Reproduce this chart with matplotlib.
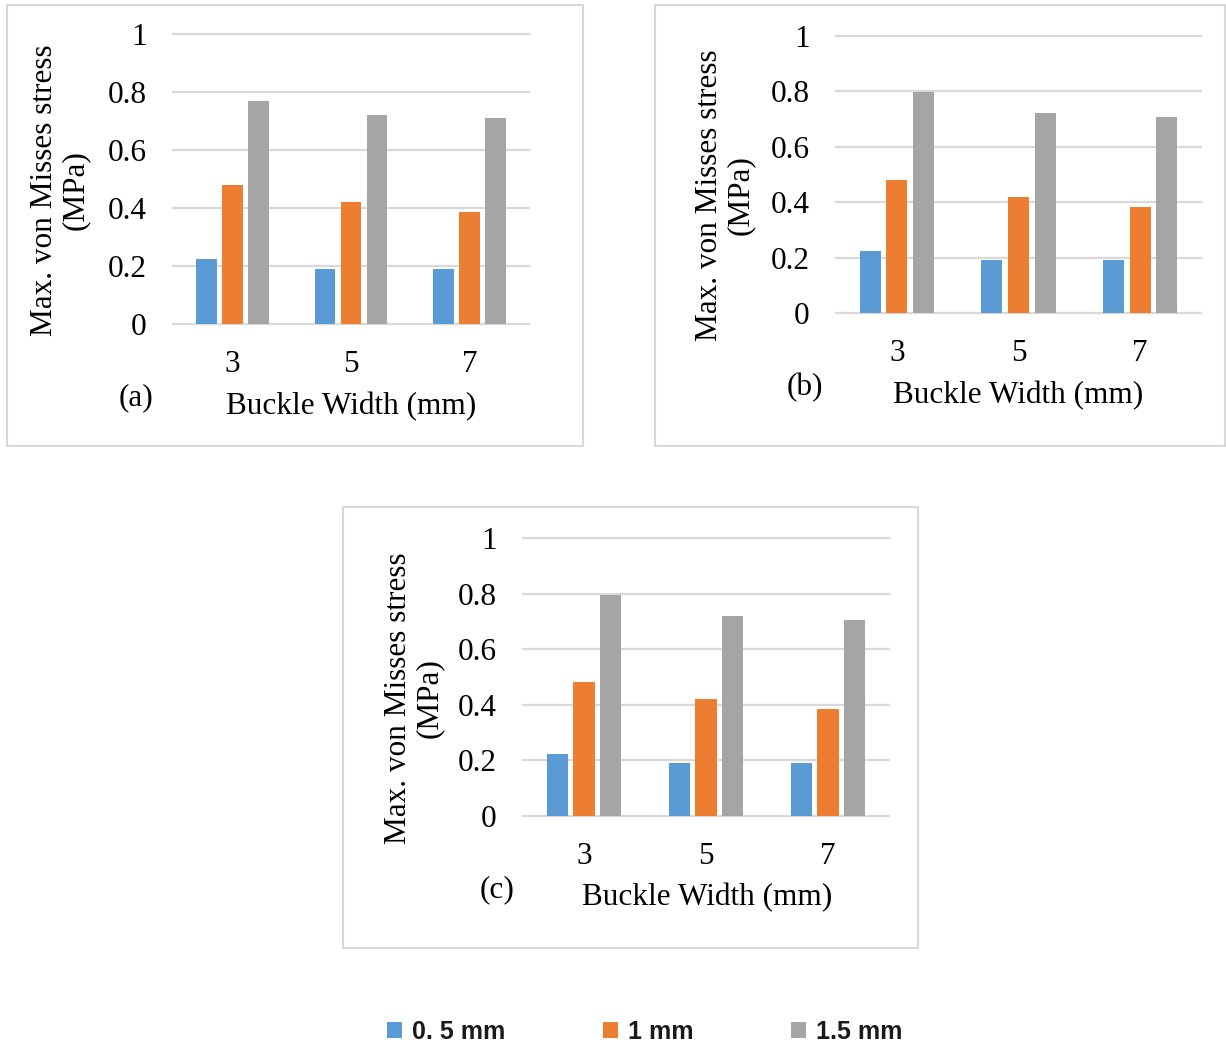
import matplotlib
matplotlib.use("Agg")
import matplotlib.pyplot as plt
import numpy as np
from matplotlib.patches import Rectangle

# ---- data ----
categories = ["3", "5", "7"]
series_names = ["0. 5 mm", "1 mm", "1.5 mm"]
panel_a = {"0. 5 mm": [0.224, 0.19, 0.19], "1 mm": [0.479, 0.42, 0.386], "1.5 mm": [0.769, 0.72, 0.71]}
panel_b = {"0. 5 mm": [0.224, 0.19, 0.19], "1 mm": [0.48, 0.419, 0.383], "1.5 mm": [0.798, 0.722, 0.708]}
panel_c = {"0. 5 mm": [0.223, 0.19, 0.19], "1 mm": [0.482, 0.42, 0.385], "1.5 mm": [0.795, 0.72, 0.705]}
y_ticks = [0, 0.2, 0.4, 0.6, 0.8, 1.0]
y_tick_labels = ["0", "0.2", "0.4", "0.6", "0.8", "1"]
panel_tags = ["(a)", "(b)", "(c)"]
x_label = "Buckle Width (mm)"
y_label = "Max. von Misses stress\n(MPa)"

colors = ["#5B9BD5", "#ED7D31", "#A5A5A5"]
grid_color = "#D9D9D9"

W, H = 1226, 1046
fig = plt.figure(figsize=(W / 100, H / 100), dpi=100)
fig.patch.set_facecolor("white")

SERIF = "Liberation Serif"
FS = 22.5

def fx(px):
    return px / W

def fy(py):
    return 1 - py / H

def rect(l, t, r, b):
    return [fx(l), fy(b), fx(r) - fx(l), fy(t) - fy(b)]

panels = [
    dict(data=panel_a, frame=(7, 5, 583, 446), ax=(173, 34, 529, 324),
         ylab=(60, 190), xlab=(351, 407), tag=(136, 398)),
    dict(data=panel_b, frame=(655, 5, 1225, 446), ax=(836, 36, 1201, 313),
         ylab=(725, 195), xlab=(1018, 396), tag=(805, 388)),
    dict(data=panel_c, frame=(343, 507, 918, 948), ax=(523, 538, 889, 816),
         ylab=(414, 698), xlab=(707, 898), tag=(497, 890)),
]

bar_w = 0.173
step = 0.219
x = np.arange(len(categories))
handles = []

for i, p in enumerate(panels):
    l, t, r, b = p["frame"]
    fig.patches.append(Rectangle((fx(l), fy(b)), fx(r) - fx(l), fy(t) - fy(b),
                                 transform=fig.transFigure, fill=False,
                                 edgecolor=grid_color, linewidth=1.5, zorder=0))
    ax = fig.add_axes(rect(*p["ax"]))
    ax.set_facecolor("none")
    for v in y_ticks:
        ax.axhline(v, color=grid_color, linewidth=1.6, zorder=0, clip_on=False)
    hs = []
    for k, name in enumerate(series_names):
        h = ax.bar(x + (k - 1) * step, p["data"][name], width=bar_w,
                   color=colors[k], edgecolor="none", zorder=2, label=name)
        hs.append(h)
    if i == 0:
        handles = hs
    ax.set_xlim(-0.5, len(categories) - 0.5)
    ax.set_ylim(0, 1.0)
    ax.set_yticks(y_ticks)
    ax.set_yticklabels(y_tick_labels, fontfamily=SERIF, fontsize=FS)
    ax.set_xticks(x)
    ax.set_xticklabels(categories, fontfamily=SERIF, fontsize=FS)
    ax.tick_params(axis="both", length=0)
    ax.tick_params(axis="y", pad=19)
    ax.tick_params(axis="x", pad=19)
    for s in ax.spines.values():
        s.set_visible(False)
    fig.text(fx(p["ylab"][0]), fy(p["ylab"][1]), y_label, rotation=90,
             ha="center", va="center", multialignment="center",
             fontfamily=SERIF, fontsize=FS, linespacing=1.08)
    fig.text(fx(p["xlab"][0]), fy(p["xlab"][1]), x_label, ha="center", va="center",
             fontfamily=SERIF, fontsize=FS)
    fig.text(fx(p["tag"][0]), fy(p["tag"][1]), panel_tags[i], ha="center", va="center",
             fontfamily=SERIF, fontsize=FS)

leg = fig.legend(handles, series_names, loc="center", bbox_to_anchor=(fx(645), fy(1032)),
                 ncol=3, frameon=False, handlelength=0.6, handleheight=0.6,
                 handletextpad=0.4, columnspacing=3.9,
                 prop={"family": "Liberation Sans", "weight": "bold", "size": 18})
for txt in leg.get_texts():
    txt.set_color("#1a1a1a")

fig.savefig("out.png", dpi=100, facecolor="white")
